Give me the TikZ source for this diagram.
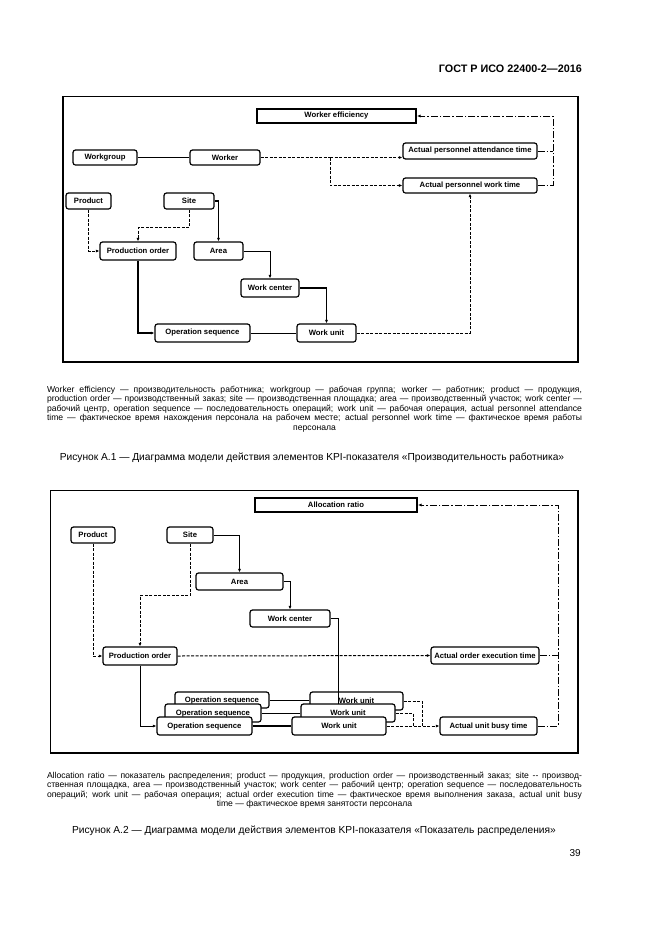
\documentclass[tikz,border=0pt]{standalone}
\usepackage{fontspec}
\setmainfont{Liberation Sans}
\usetikzlibrary{arrows.meta}
\begin{document}
\begin{tikzpicture}[x=1pt,y=-1pt,
  box/.style={draw, line width=1.2pt, rounded corners=2.5pt, fill=white, font=\bfseries\fontsize{7.7}{8}\selectfont, inner sep=0pt},
  kbox/.style={box, line width=2pt, rounded corners=0pt},
  ln/.style={line width=1pt},
  tk/.style={line width=1.8pt},
  dsh/.style={line width=1pt, dash pattern=on 3pt off 1.5pt},
  dd/.style={line width=1pt, dash pattern=on 7pt off 2pt on 1.5pt off 2pt},
  arr/.style={-{Latex[length=3.5pt,width=3pt]}},
  capt/.style={inner sep=0pt, align=center, font=\fontsize{8.6}{9.6}\selectfont},
  title/.style={inner sep=0pt, font=\fontsize{10.2}{12}\selectfont},
  frame/.style={line width=1.6pt}
]
\fill[white] (0,0) rectangle (661,935);
\useasboundingbox (0,0) rectangle (661,935);

% header
\node[inner sep=0pt, anchor=east, font=\bfseries\fontsize{10.8}{12}\selectfont] (hdr) at (582,69) {ГОСТ Р ИСО 22400-2—2016};

% ===== Figure A.1 =====
\draw[frame] (63,96.5) rectangle (578,362);

\node[kbox, minimum width=159pt, minimum height=14pt] (we) at (336.5,116) {Worker efficiency};
\node[box, minimum width=64pt, minimum height=15pt] (wg) at (105,157.5) {Workgroup};
\node[box, minimum width=70pt, minimum height=15pt] (wk) at (225,157.5) {Worker};
\node[box, minimum width=134pt, minimum height=16pt] (apat) at (470,151) {Actual personnel attendance time};
\node[box, minimum width=134pt, minimum height=15pt] (apwt) at (470,185.5) {Actual personnel work time};
\node[box, minimum width=45pt, minimum height=16pt] (prod) at (88.5,201) {Product};
\node[box, minimum width=50pt, minimum height=16pt] (site) at (189,201) {Site};
\node[box, minimum width=76pt, minimum height=18pt] (po) at (138,251) {Production order};
\node[box, minimum width=49pt, minimum height=18pt] (area) at (218.5,251) {Area};
\node[box, minimum width=58pt, minimum height=18pt] (wc) at (270,288) {Work center};
\node[box, minimum width=95pt, minimum height=18pt] (os) at (202.5,333) {Operation sequence};
\node[box, minimum width=59pt, minimum height=18pt] (wu) at (326.5,333) {Work unit};

\draw[ln] (wg) -- (wk);
\coordinate (rj) at (553,116);
\draw[dd,arr] (apwt.east) -| (rj) -- (we.east);
\draw[dd] (apat.east) -- (apat.east -| rj);
\coordinate (j1) at (330,157.5);
\draw[dsh] (wk.east) -- (j1);
\draw[dsh,arr] (j1) -- (j1 -| apat.west);
\draw[dsh,arr] (j1) |- (apwt.west);
\draw[dsh,arr] (prod.south) |- (po.west);
\draw[dsh,arr] (site.south) -- ++(0,18) -| (po.north);
\draw[tk,arr] (site.east) -| (area.north);
\draw[ln,arr] (area.east) -| (wc.north);
\draw[tk,arr] (wc.east) -| (wu.north);
\draw[tk,arr] (po.south) |- (os.west);
\draw[ln] (os.east) -- (wu.west);
\draw[dsh,arr] (wu.east) -| (apwt.south);

\node[capt, anchor=north] (cap1) at (314.5,385.5) {%
\makebox[535pt][s]{Worker efficiency  — производительность работника; workgroup — рабочая группа; worker — работник; product — продукция,}\\
\makebox[535pt][s]{production order — производственный заказ; site — производственная площадка; area — производственный участок; work center —}\\
\makebox[535pt][s]{рабочий центр, operation sequence — последовательность операций; work unit — рабочая операция, actual personnel attendance}\\
\makebox[535pt][s]{time — фактическое время нахождения персонала на рабочем месте; actual personnel work time — фактическое время работы}\\
персонала};

\node[title] (t1) at (312,458) {Рисунок А.1 — Диаграмма модели действия элементов KPI-показателя «Производительность работника»};

% ===== Figure A.2 =====
\draw[frame] (50.5,490.5) rectangle (578,753);

\node[kbox, minimum width=162pt, minimum height=14pt] (ar) at (336,505) {Allocation ratio};
\node[box, minimum width=44pt, minimum height=16pt] (prod2) at (93,535) {Product};
\node[box, minimum width=46pt, minimum height=16pt] (site2) at (190,535) {Site};
\node[box, minimum width=87pt, minimum height=17pt] (area2) at (239.5,581.5) {Area};
\node[box, minimum width=80pt, minimum height=17pt] (wc2) at (290,618.5) {Work center};
\node[box, minimum width=74pt, minimum height=18pt] (po2) at (140,656) {Production order};
\node[box, minimum width=108pt, minimum height=17pt] (aoet) at (485,655.5) {Actual order execution time};
\node[box, minimum width=97pt, minimum height=18pt] (aubt) at (488.5,726) {Actual unit busy time};

\draw[ln,arr] (site2.east) -| (area2.north);
\draw[ln,arr] (area2.east) -| (wc2.north);
\draw[dsh,arr] (prod2.south) |- (po2.west);
\draw[dsh,arr] (site2.south) -- ++(0,52) -| (po2.north);
\draw[dsh,arr] (po2.east) -- (aoet.west);

% stacked operation sequences / work units
\coordinate (j3) at (422,726);
\coordinate (j4) at (413,726);
\coordinate (wce) at (338,705);
\node[box, minimum width=94pt, minimum height=16pt] (os1) at (222,700) {Operation sequence};
\node[box, minimum width=93pt, minimum height=18pt] (wu1) at (356.5,701) {Work unit};
\draw[ln] (os1.east) -- (os1.east -| wu1.west);
\draw[ln] (wc2.east) -| (wce);
\draw[dsh] (wu1.east) -| (j3);
\node[box, minimum width=96pt, minimum height=18pt] (os2) at (213,713) {Operation sequence};
\node[box, minimum width=94pt, minimum height=18pt] (wu2) at (348,713) {Work unit};
\draw[ln] (os2.east) -- (wu2.west);
\draw[dsh] (wu2.east) -| (j4);
\node[box, minimum width=95pt, minimum height=18pt] (os3) at (204.5,726) {Operation sequence};
\node[box, minimum width=94pt, minimum height=18pt] (wu3) at (339,726) {Work unit};
\draw[tk] (os3.east) -- (wu3.west);
\draw[dsh,arr] (wu3.east) -- (aubt.west);
\draw[ln,arr] (po2.south) |- (os3.west);

\coordinate (rj2) at (558,505);
\draw[dd,arr] (aubt.east) -| (rj2) -- (ar.east);
\draw[dd] (aoet.east) -- (aoet.east -| rj2);

\node[capt, anchor=north] (cap2) at (314.5,771.5) {%
\makebox[535pt][s]{Allocation ratio — показатель распределения; product — продукция, production order — производственный заказ; site -{}- производ-}\\
\makebox[535pt][s]{ственная площадка, area — производственный участок; work center — рабочий центр; operation sequence — последовательность}\\
\makebox[535pt][s]{операций; work unit — рабочая операция; actual order execution time — фактическое время выполнения заказа, actual unit busy}\\
time — фактическое время занятости персонала};

\node[title] (t2) at (314,831) {Рисунок А.2 — Диаграмма модели действия элементов KPI-показателя «Показатель распределения»};

\node[inner sep=0pt, anchor=east, font=\fontsize{10}{12}\selectfont] (pg) at (581,853) {39};
\end{tikzpicture}
\end{document}
